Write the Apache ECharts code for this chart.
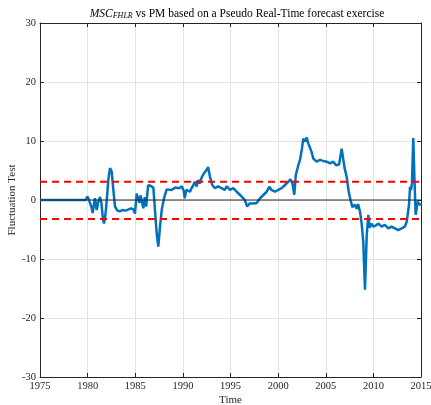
<!DOCTYPE html>
<html>
<head>
<meta charset="utf-8">
<script src="https://cdn.jsdelivr.net/npm/echarts@6/dist/echarts.min.js"></script>
<style>
  html, body { margin: 0; padding: 0; background: #fff; }
  #chart { width: 431px; height: 405px; }
</style>
</head>
<body>
<div id="chart"></div>
<script>
// fluctuation test statistic, [year, value]
const fluct = [
  [1975.0, 0], [1979.8, 0], [1979.97, 0.6], [1980.1, 0.2], [1980.25, 0], [1980.4, -1.2],
  [1980.53, -2.2], [1980.65, -0.8], [1980.77, 0.3], [1980.95, -1.7], [1981.12, -0.3],
  [1981.3, 0.5], [1981.45, -0.5], [1981.6, -3.1], [1981.72, -4.0], [1981.82, -3.1],
  [1981.93, -1.5], [1982.07, 1.2], [1982.17, 3.4], [1982.35, 5.4], [1982.45, 5.6],
  [1982.53, 4.8], [1982.7, 1.7], [1982.87, -1.1], [1983.12, -1.8], [1983.4, -1.9],
  [1983.7, -1.7], [1984.0, -1.8], [1984.3, -1.6], [1984.55, -1.4], [1984.8, -1.6],
  [1984.97, -2.3], [1985.15, 1.1], [1985.3, 0.2], [1985.45, -0.5], [1985.55, 0.8],
  [1985.7, -0.2], [1985.85, -1.4], [1986.0, 0.5], [1986.15, -1.1], [1986.35, 2.5],
  [1986.62, 2.4], [1986.9, 2.1], [1987.07, -1.7], [1987.25, -5.6], [1987.42, -7.9],
  [1987.6, -4.5], [1987.78, -1.7], [1988.02, 0.3], [1988.3, 1.8], [1988.5, 2.0],
  [1988.8, 1.7], [1989.2, 2.1], [1989.6, 2.0], [1989.9, 2.3], [1990.1, 1.5],
  [1990.2, 0.3], [1990.35, 1.7], [1990.75, 1.4], [1990.9, 2.0], [1991.1, 2.5],
  [1991.25, 3.1], [1991.45, 2.3], [1991.6, 3.4], [1991.75, 2.8], [1992.0, 3.9],
  [1992.2, 4.5], [1992.5, 5.1], [1992.65, 5.6], [1992.85, 3.9], [1993.1, 2.5],
  [1993.37, 2.0], [1993.7, 2.3], [1994.07, 2.0], [1994.4, 1.7], [1994.6, 2.3],
  [1994.95, 1.7], [1995.3, 2.0], [1995.65, 1.4], [1996.0, 0.85], [1996.2, 1.1],
  [1996.5, 0], [1996.75, -1.1], [1997.0, -0.6], [1997.15, -0.3], [1997.4, -0.6],
  [1997.75, -0.5], [1998.1, 0.3], [1998.45, 0.85], [1998.8, 1.4], [1999.07, 2.25],
  [1999.3, 1.7], [1999.67, 1.4], [2000.0, 1.7], [2000.37, 2.0], [2000.7, 2.5],
  [2001.07, 3.1], [2001.3, 3.5], [2001.5, 2.8], [2001.7, 0.9], [2001.85, 4.2],
  [2002.12, 5.9], [2002.3, 6.8], [2002.5, 8.7], [2002.64, 10.4], [2002.85, 9.9],
  [2003.0, 10.6], [2003.17, 9.6], [2003.35, 9.3], [2003.5, 8.2], [2003.7, 7.0],
  [2004.05, 6.5], [2004.4, 6.8], [2004.75, 6.6], [2005.1, 6.5], [2005.45, 6.2],
  [2005.8, 6.5], [2006.08, 5.9], [2006.4, 6.0], [2006.55, 5.7], [2006.67, 8.7],
  [2006.8, 7.3], [2006.98, 5.4], [2007.2, 3.9], [2007.4, 1.5], [2007.6, 0],
  [2007.8, -1.2], [2008.07, -0.8], [2008.25, -1.5], [2008.4, -0.7], [2008.6, -2.0],
  [2008.77, -4.0], [2008.94, -7.1], [2009.12, -15.2], [2009.3, -6.0], [2009.47, -2.5],
  [2009.6, -4.7], [2009.8, -4.0], [2010.0, -4.5], [2010.27, -4.3], [2010.55, -4.0],
  [2010.87, -4.5], [2011.2, -4.2], [2011.57, -4.8], [2011.9, -4.5], [2012.27, -4.8],
  [2012.6, -5.1], [2012.97, -4.8], [2013.3, -4.5], [2013.5, -3.7], [2013.74, -0.85],
  [2013.85, 2.25], [2013.95, 1.7], [2014.05, 2.8], [2014.19, 10.5], [2014.3, 4.2],
  [2014.44, -2.5], [2014.65, -0.3], [2014.9, -0.85], [2015.0, -0.6]
];
const critUpper = [[1975, 3.1], [2015, 3.1]];
const critLower = [[1975, -3.2], [2015, -3.2]];
const zeroLine = [[1975, 0], [2015, 0]];

const axisCol = '#262626';
const font = 'Liberation Serif';

const chart = echarts.init(document.getElementById('chart'));
chart.setOption({
  animation: false,
  textStyle: { fontFamily: font },
  title: {
    text: '{i|MSC}{s|FHLR} vs PM based on a Pseudo Real-Time forecast exercise',
    left: 232, top: 3, textAlign: 'center',
    textStyle: {
      fontSize: 11.5, fontWeight: 'normal', color: '#000', fontFamily: font,
      rich: {
        i: { fontStyle: 'italic', fontSize: 11.5, fontFamily: font, color: '#000' },
        s: { fontStyle: 'italic', fontSize: 8, fontFamily: font, color: '#000', verticalAlign: 'bottom', padding: [4, 0, 0, 0] }
      }
    }
  },
  grid: { left: 40, right: 10, top: 23, bottom: 28, show: false, outerBoundsMode: 'none', containLabel: false },
  xAxis: [
    {
      type: 'value', min: 1975, max: 2015, interval: 5,
      name: 'Time', nameLocation: 'middle', nameGap: 18, nameMoveOverlap: false,
      nameTextStyle: { fontSize: 11, color: axisCol, fontFamily: font },
      axisLine: { show: true, onZero: false, lineStyle: { color: axisCol, width: 1 } },
      axisTick: { inside: true, length: 4, lineStyle: { color: axisCol } },
      axisLabel: { color: axisCol, fontSize: 10.5, margin: 4, formatter: v => String(v) },
      splitLine: { show: true, lineStyle: { color: '#e3e3e3', width: 1 } }
    },
    {
      type: 'value', min: 1975, max: 2015, interval: 5, position: 'top',
      axisLine: { show: true, onZero: false, lineStyle: { color: axisCol, width: 1 } },
      axisTick: { inside: true, length: 4, lineStyle: { color: axisCol } },
      axisLabel: { show: false }, splitLine: { show: false }
    }
  ],
  yAxis: [
    {
      type: 'value', min: -30, max: 30, interval: 10,
      name: 'Fluctuation Test', nameLocation: 'middle', nameGap: 22, nameMoveOverlap: false,
      nameTextStyle: { fontSize: 11, color: axisCol, fontFamily: font },
      axisLine: { show: true, onZero: false, lineStyle: { color: axisCol, width: 1 } },
      axisTick: { inside: true, length: 4, lineStyle: { color: axisCol } },
      axisLabel: { color: axisCol, fontSize: 10.5, margin: 4 },
      splitLine: { show: true, lineStyle: { color: '#e3e3e3', width: 1 } }
    },
    {
      type: 'value', min: -30, max: 30, interval: 10, position: 'right',
      axisLine: { show: true, onZero: false, lineStyle: { color: axisCol, width: 1 } },
      axisTick: { inside: true, length: 4, lineStyle: { color: axisCol } },
      axisLabel: { show: false }, splitLine: { show: false }
    }
  ],
  series: [
    {
      type: 'line', data: fluct, showSymbol: false, z: 2,
      lineStyle: { color: '#0072BD', width: 2.5 }
    },
    {
      type: 'line', data: zeroLine, showSymbol: false, z: 3,
      lineStyle: { color: '#262626', width: 1 }
    },
    {
      type: 'line', data: critUpper, showSymbol: false, z: 4,
      lineStyle: { color: '#ff0000', width: 2, type: [7, 5] }
    },
    {
      type: 'line', data: critLower, showSymbol: false, z: 4,
      lineStyle: { color: '#ff0000', width: 2, type: [7, 5] }
    }
  ]
});
</script>
</body>
</html>
